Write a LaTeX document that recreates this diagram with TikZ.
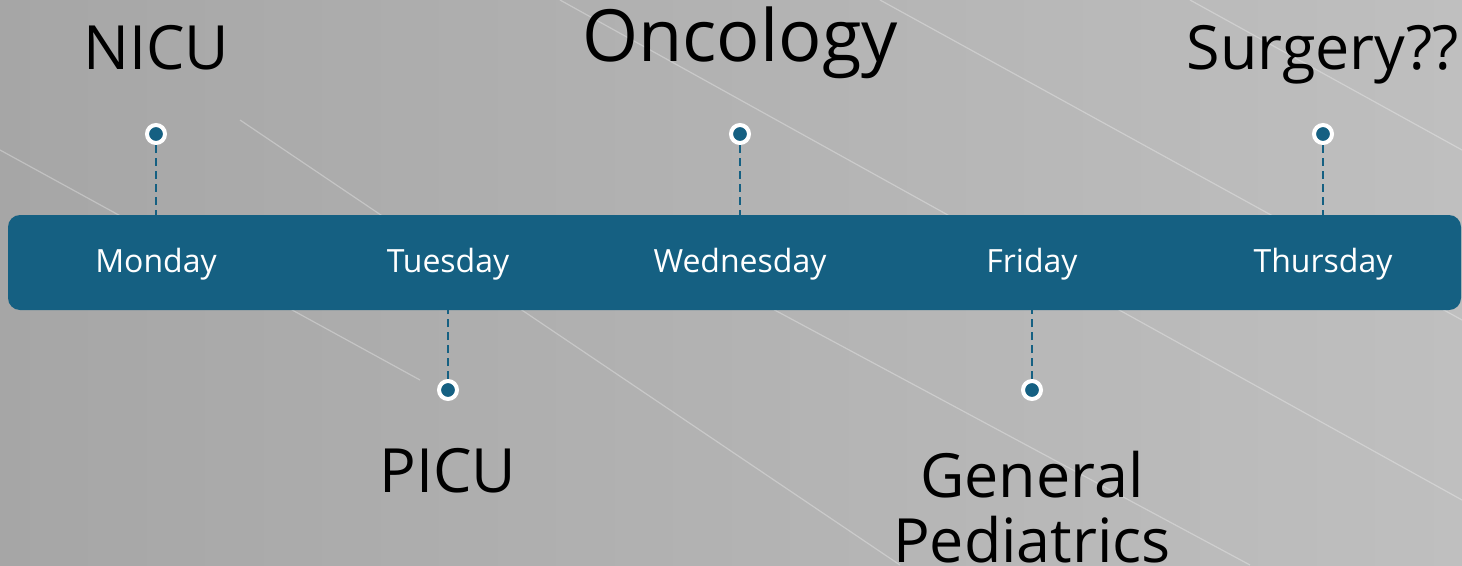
\documentclass[tikz,border=0pt]{standalone}
\usepackage{fontspec}
\setmainfont{Open Sans}
\usetikzlibrary{calc}
\definecolor{cteal}{HTML}{156082}
\definecolor{cbg}{HTML}{A6A6A6}
\definecolor{cbglight}{HTML}{BFBFBF}
\tikzset{
  every picture/.style={x=1pt, y=1pt},
  bar/.style={fill=cteal, rounded corners=12pt, minimum width=1453pt, minimum height=95pt, inner sep=0pt},
  day/.style={text=white, font=\fontsize{32}{36}\selectfont, anchor=base},
  dept/.style={text=black, font=\fontsize{61}{65}\selectfont, anchor=base, align=center},
  dot/.style={circle, fill=cteal, draw=white, line width=4pt, minimum size=18pt, inner sep=0pt},
  stem/.style={draw=cteal, line width=2pt, dash pattern=on 8pt off 5pt},
  streak/.style={draw=white, opacity=0.3, line width=1.2pt},
}

\begin{document}
\begin{tikzpicture}
  % background
  \shade[left color=cbg, right color=cbglight] (0,0) rectangle (1462,-565);
  \useasboundingbox (0,0) rectangle (1462,-565);
  \draw[streak] (560,0) -- (1462,-500);
  \draw[streak] (880,0) -- (1462,-320);
  \draw[streak] (1190,0) -- (1462,-150);
  \draw[streak] (240,-120) -- (900,-565);
  \draw[streak] (0,-150) -- (420,-380);
  \draw[streak] (700,-270) -- (1250,-565);

  % timeline bar
  \node[bar] (bar) at (734.5,-262.5) {};

  % days
  \node[day] (mon) at (156,-272) {Monday};
  \node[day] (tue) at (448,-272) {Tuesday};
  \node[day] (wed) at (740,-272) {Wednesday};
  \node[day] (fri) at (1032,-272) {Friday};
  \node[day] (thu) at (1323,-272) {Thursday};

  % markers
  \node[dot] (d1) at (156,-134) {};
  \node[dot] (d2) at (448,-390) {};
  \node[dot] (d3) at (740,-134) {};
  \node[dot] (d4) at (1032,-390) {};
  \node[dot] (d5) at (1323,-134) {};
  \draw[stem] (d1) -- (d1 |- bar.north);
  \draw[stem] (d2) -- (d2 |- bar.south);
  \draw[stem] (d3) -- (d3 |- bar.north);
  \draw[stem] (d4) -- (d4 |- bar.south);
  \draw[stem] (d5) -- (d5 |- bar.north);

  % departments
  \node[dept] (nicu) at (156,-69) {NICU};
  \node[dept] (picu) at (448,-492) {PICU};
  \node[dept, font=\fontsize{72}{76}\selectfont] (onc) at (740,-61) {Oncology};
  \node[dept] (gen) at (1032,-562) {General\\Pediatrics};
  \node[dept] (surg) at (1323,-69) {Surgery??};
\end{tikzpicture}
\end{document}
